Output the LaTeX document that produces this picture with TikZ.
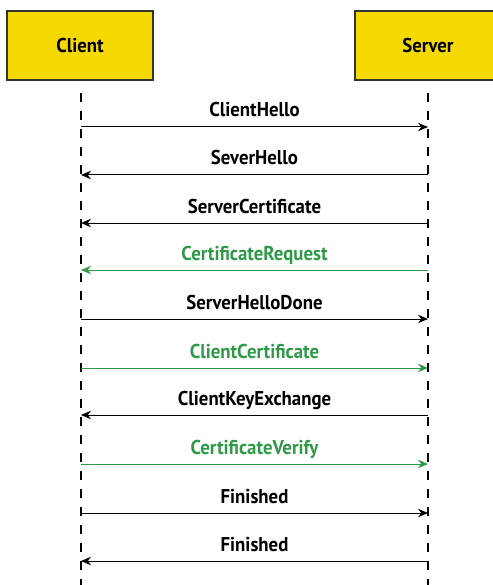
\documentclass[tikz,border=0pt]{standalone}
\usepackage{fontspec}
\setsansfont[FakeStretch=0.94]{PT Sans}
\usetikzlibrary{arrows.meta}

\begin{document}
\begin{tikzpicture}[x=1pt,y=-1pt]
\definecolor{partyyellow}{HTML}{F5D900}
\definecolor{optgreen}{HTML}{2E9A48}
\tikzset{
  partybox/.style={rectangle,draw=black!80,fill=partyyellow,line width=1.2pt,minimum width=146pt,minimum height=69pt,inner sep=0pt,font=\sffamily\bfseries\fontsize{20}{22}\selectfont},
  lifeline/.style={draw=black,line width=2.6pt,dash pattern=on 9pt off 9pt},
  msg/.style={draw=black,line width=1pt,-{Stealth[length=10pt,width=8.5pt]}},
  optmsg/.style={msg,draw=optgreen,optgreen},
  msglabel/.style={anchor=base,yshift=10pt,inner sep=0pt,font=\sffamily\bfseries\fontsize{20}{22}\selectfont}
}
\useasboundingbox (0,0) rectangle (492,585);
\node[partybox] (n_client) at (80,45.5) {Client};
\node[partybox] (n_server) at (428,45.5) {Server};
\coordinate (c_top) at (81,93);
\coordinate (c_end) at (81,590);
\coordinate (s_top) at (428,93);
\coordinate (s_end) at (428,590);
\draw[lifeline] (c_top) -- (c_end);
\draw[lifeline] (s_top) -- (s_end);
% message points on the two lifelines
\coordinate (c1) at (81,127);  \coordinate (s1) at (428,127);
\coordinate (c2) at (81,175);  \coordinate (s2) at (428,175);
\coordinate (c3) at (81,223);  \coordinate (s3) at (428,223);
\coordinate (c4) at (81,270);  \coordinate (s4) at (428,270);
\coordinate (c5) at (81,319);  \coordinate (s5) at (428,319);
\coordinate (c6) at (81,368);  \coordinate (s6) at (428,368);
\coordinate (c7) at (81,415);  \coordinate (s7) at (428,415);
\coordinate (c8) at (81,464);  \coordinate (s8) at (428,464);
\coordinate (c9) at (81,513);  \coordinate (s9) at (428,513);
\coordinate (c10) at (81,561); \coordinate (s10) at (428,561);
\draw[msg] (c1) -- node[msglabel] {ClientHello} (s1);
\draw[msg] (s2) -- node[msglabel] {SeverHello} (c2);
\draw[msg] (s3) -- node[msglabel] {ServerCertificate} (c3);
\draw[optmsg] (s4) -- node[msglabel] {CertificateRequest} (c4);
\draw[msg] (c5) -- node[msglabel] {ServerHelloDone} (s5);
\draw[optmsg] (c6) -- node[msglabel] {ClientCertificate} (s6);
\draw[msg] (s7) -- node[msglabel] {ClientKeyExchange} (c7);
\draw[optmsg] (c8) -- node[msglabel] {CertificateVerify} (s8);
\draw[msg] (c9) -- node[msglabel] {Finished} (s9);
\draw[msg] (s10) -- node[msglabel] {Finished} (c10);
\end{tikzpicture}
\end{document}
